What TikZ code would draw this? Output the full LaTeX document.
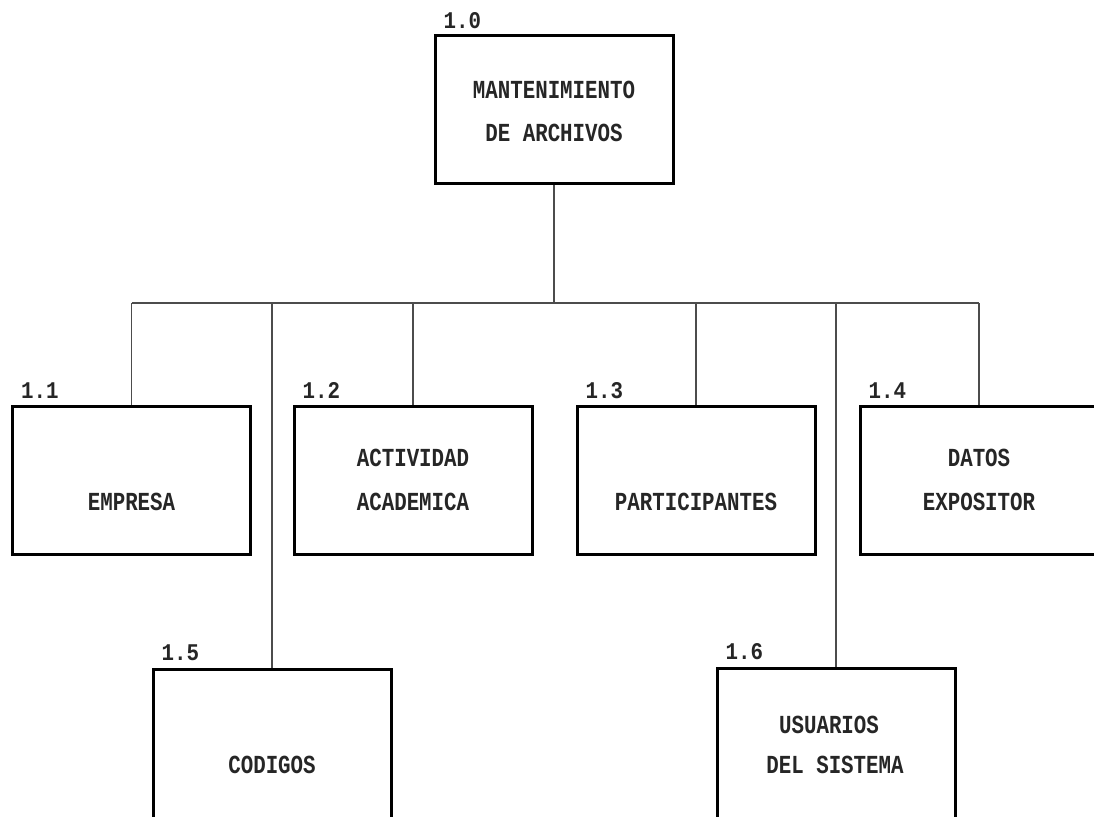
\documentclass[tikz,border=0pt]{standalone}
\usepackage{fontspec}
\usepackage{graphicx}
\setmonofont{Liberation Mono}
\newcommand{\tallt}[1]{\scalebox{1}[1.25]{#1}}
\newcommand{\tallnum}[1]{\scalebox{1}[1.15]{#1}}
\tikzset{
  procbox/.style={draw=black, line width=3pt, minimum width=238pt, minimum height=148pt, inner sep=0pt},
  boxtext/.style={font=\ttfamily\bfseries\fontsize{20.8}{25}\selectfont, inner sep=0pt, text=black!85},
  numlabel/.style={font=\ttfamily\bfseries\fontsize{20.8}{25}\selectfont, anchor=base west, inner sep=0pt, text=black!85},
  link/.style={line width=1.1pt, draw=black!70}
}
\begin{document}
\begin{tikzpicture}[x=1pt,y=-1pt]
\useasboundingbox[fill=white] (0,0) rectangle (1094,816);

% boxes
\node[procbox] (b10) at (554,109.5) {};
\node[procbox] (b11) at (131.5,480.5) {};
\node[procbox] (b12) at (413,480.5) {};
\node[procbox] (b13) at (696,480.5) {};
\node[procbox] (b14) at (979,480.5) {};
\node[procbox, minimum height=150pt] (b15) at (272,744) {};
\node[procbox, minimum height=150pt] (b16) at (836,743) {};

% texts
\node[boxtext] (t10a) at (554,90) {\tallt{MANTENIMIENTO}};
\node[boxtext] (t10b) at (554,133) {\tallt{DE ARCHIVOS}};
\node[boxtext] (t11) at (131.5,502) {\tallt{EMPRESA}};
\node[boxtext] (t12a) at (413,458) {\tallt{ACTIVIDAD}};
\node[boxtext] (t12b) at (413,502) {\tallt{ACADEMICA}};
\node[boxtext] (t13) at (696,502) {\tallt{PARTICIPANTES}};
\node[boxtext] (t14a) at (979,458) {\tallt{DATOS}};
\node[boxtext] (t14b) at (979,502) {\tallt{EXPOSITOR}};
\node[boxtext] (t15) at (272,765) {\tallt{CODIGOS}};
\node[boxtext] (t16a) at (829,725) {\tallt{USUARIOS}};
\node[boxtext] (t16b) at (835,765) {\tallt{DEL SISTEMA}};

% number labels
\node[numlabel] (l10) at ([xshift=10pt,yshift=5pt]b10.north west) {\tallnum{1.0}};
\node[numlabel] (l11) at ([xshift=10pt,yshift=7pt]b11.north west) {\tallnum{1.1}};
\node[numlabel] (l12) at ([xshift=10pt,yshift=7pt]b12.north west) {\tallnum{1.2}};
\node[numlabel] (l13) at ([xshift=10pt,yshift=7pt]b13.north west) {\tallnum{1.3}};
\node[numlabel] (l14) at ([xshift=10pt,yshift=7pt]b14.north west) {\tallnum{1.4}};
\node[numlabel] (l15) at ([xshift=10pt,yshift=7pt]b15.north west) {\tallnum{1.5}};
\node[numlabel] (l16) at ([xshift=10pt,yshift=7pt]b16.north west) {\tallnum{1.6}};

% connectors
\coordinate (bus) at (554,303);
\coordinate (busL) at (b11.north |- bus);
\coordinate (busR) at (b14.north |- bus);
\draw[link] (b10.south) -- (bus);
\draw[link] (busL) -- (busR);
\draw[link] (busL) -- (b11.north);
\draw[link] (b12.north |- bus) -- (b12.north);
\draw[link] (b13.north |- bus) -- (b13.north);
\draw[link] (busR) -- (b14.north);
\draw[link] (b15.north |- bus) -- (b15.north);
\draw[link] (b16.north |- bus) -- (b16.north);
\end{tikzpicture}
\end{document}
